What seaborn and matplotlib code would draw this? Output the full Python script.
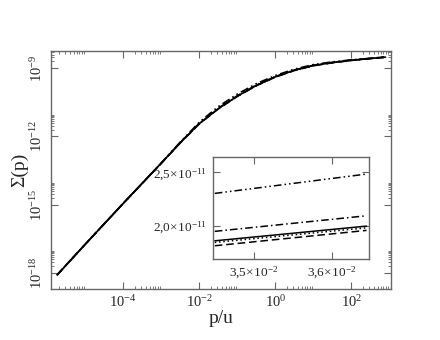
import numpy as np
import pandas as pd
import seaborn as sns
import matplotlib.pyplot as plt
from matplotlib.ticker import FixedLocator, NullFormatter

# log10(p/u) grid and log10(Sigma) for the five curves
log_p = [-5.74, -5.0, -4.0, -3.0, -2.5, -2.0, -1.5, -1.0, -0.5, 0.0, 0.5, 1.0, 1.5, 2.0, 2.5, 2.9]
log_solid = [-18.10, -16.75, -14.95, -13.18, -12.28, -11.44, -10.78, -10.23, -9.76, -9.38, -9.09, -8.88, -8.75, -8.65, -8.57, -8.51]
log_dotted = [-18.10, -16.75, -14.95, -13.18, -12.285, -11.445, -10.785, -10.235, -9.765, -9.385, -9.095, -8.885, -8.755, -8.65, -8.57, -8.51]
log_dashed = [-18.10, -16.75, -14.95, -13.185, -12.29, -11.45, -10.79, -10.24, -9.77, -9.39, -9.10, -8.89, -8.76, -8.655, -8.575, -8.51]
log_dashdot = [-18.10, -16.75, -14.95, -13.18, -12.27, -11.42, -10.76, -10.21, -9.74, -9.365, -9.08, -8.87, -8.74, -8.645, -8.57, -8.51]
log_dashdotdot = [-18.10, -16.75, -14.95, -13.17, -12.25, -11.38, -10.69, -10.14, -9.68, -9.32, -9.04, -8.84, -8.72, -8.63, -8.56, -8.50]

# inset: zoom around p/u ~ 3.5e-2 (linear axes)
inset_p = [0.034492, 0.036452]
inset_solid = [1.863e-11, 2.000e-11]
inset_dotted = [1.848e-11, 1.984e-11]
inset_dashed = [1.817e-11, 1.960e-11]
inset_dashdot = [1.951e-11, 2.096e-11]
inset_dashdotdot = [2.304e-11, 2.484e-11]

series = ['solid', 'dotted', 'dashed', 'dashdot', 'dashdotdot']
main_vals = [log_solid, log_dotted, log_dashed, log_dashdot, log_dashdotdot]
inset_vals = [inset_solid, inset_dotted, inset_dashed, inset_dashdot, inset_dashdotdot]
dash_map = {'solid': '', 'dotted': (1, 1.8), 'dashed': (5, 2.5),
            'dashdot': (5, 2, 1, 2), 'dashdotdot': (5, 2, 1, 2, 1, 2)}

main_df = pd.concat([pd.DataFrame({'p': 10.0 ** np.array(log_p),
                                   'sigma': 10.0 ** np.array(v), 'curve': s})
                     for s, v in zip(series, main_vals)])
inset_df = pd.concat([pd.DataFrame({'p': inset_p, 'sigma': v, 'curve': s})
                      for s, v in zip(series, inset_vals)])

sns.set_style('ticks')
plt.rcParams['font.family'] = ['Liberation Serif', 'DejaVu Serif']
plt.rcParams['mathtext.fontset'] = 'custom'
plt.rcParams['mathtext.rm'] = 'Liberation Serif'
plt.rcParams['mathtext.it'] = 'Liberation Serif:italic'

frame = '0.4'
fig = plt.figure(figsize=(4.4, 3.4), dpi=100)
ax = fig.add_axes([0.116, 0.150, 0.773, 0.700])
sns.lineplot(data=main_df, x='p', y='sigma', hue='curve', style='curve',
             palette=['black'] * 5, dashes=dash_map, linewidth=1.2,
             legend=False, ax=ax, sort=False)
ax.set_xscale('log')
ax.set_yscale('log')
ax.set_xlim(10 ** -5.9, 10 ** 3.05)
ax.set_ylim(10 ** -18.72, 10 ** -8.24)

xmaj = [1e-4, 1e-2, 1e0, 1e2]
ymaj = [1e-18, 1e-15, 1e-12, 1e-9]
xmin_t = [m * 10.0 ** k for k in [-6, -4, -2, 0, 2] for m in range(2, 10)]
ymin_t = [m * 10.0 ** k for k in [-18, -15, -12, -9] for m in range(2, 10)]
ax.xaxis.set_major_locator(FixedLocator(xmaj))
ax.yaxis.set_major_locator(FixedLocator(ymaj))
ax.xaxis.set_minor_locator(FixedLocator(xmin_t))
ax.yaxis.set_minor_locator(FixedLocator(ymin_t))
ax.xaxis.set_minor_formatter(NullFormatter())
ax.yaxis.set_minor_formatter(NullFormatter())
ax.set_xticklabels([r'$10^{-4}$', r'$10^{-2}$', r'$10^{0}$', r'$10^{2}$'], fontsize=10.5)
ax.set_yticklabels([r'$10^{-18}$', r'$10^{-15}$', r'$10^{-12}$', r'$10^{-9}$'],
                   fontsize=10.5, rotation=90, va='center')
ax.tick_params(which='both', direction='in', top=True, right=True, color=frame)
ax.tick_params(which='major', length=5, width=0.8, pad=4)
ax.tick_params(which='minor', length=2.5, width=0.6)
for sp in ax.spines.values():
    sp.set_color(frame)
    sp.set_linewidth(1.0)
ax.set_xlabel('p/u', fontsize=14, labelpad=0)
ax.set_ylabel('Σ(p)', fontsize=14, labelpad=1)

ins = fig.add_axes([0.483, 0.237, 0.356, 0.302])
sns.lineplot(data=inset_df, x='p', y='sigma', hue='curve', style='curve',
             palette=['black'] * 5, dashes=dash_map, linewidth=1.1,
             legend=False, ax=ins, sort=False)
ins.set_xlim(0.034463, 0.036486)
ins.set_ylim(1.69e-11, 2.645e-11)
ins.set_xticks([0.035, 0.036])
ins.set_xticklabels([r'$3{,}5\!\times\!10^{-2}$', r'$3{,}6\!\times\!10^{-2}$'], fontsize=9.5)
ins.set_yticks([2.0e-11, 2.5e-11])
ins.set_yticklabels([r'$2{,}0\!\times\!10^{-11}$', r'$2{,}5\!\times\!10^{-11}$'], fontsize=9.5)
ins.set_xlabel('')
ins.set_ylabel('')
ins.tick_params(which='both', direction='in', top=True, right=True, color=frame,
                length=5, width=0.8, pad=4)
for sp in ins.spines.values():
    sp.set_color(frame)
    sp.set_linewidth(1.0)

fig.savefig('out.png', dpi=100)
